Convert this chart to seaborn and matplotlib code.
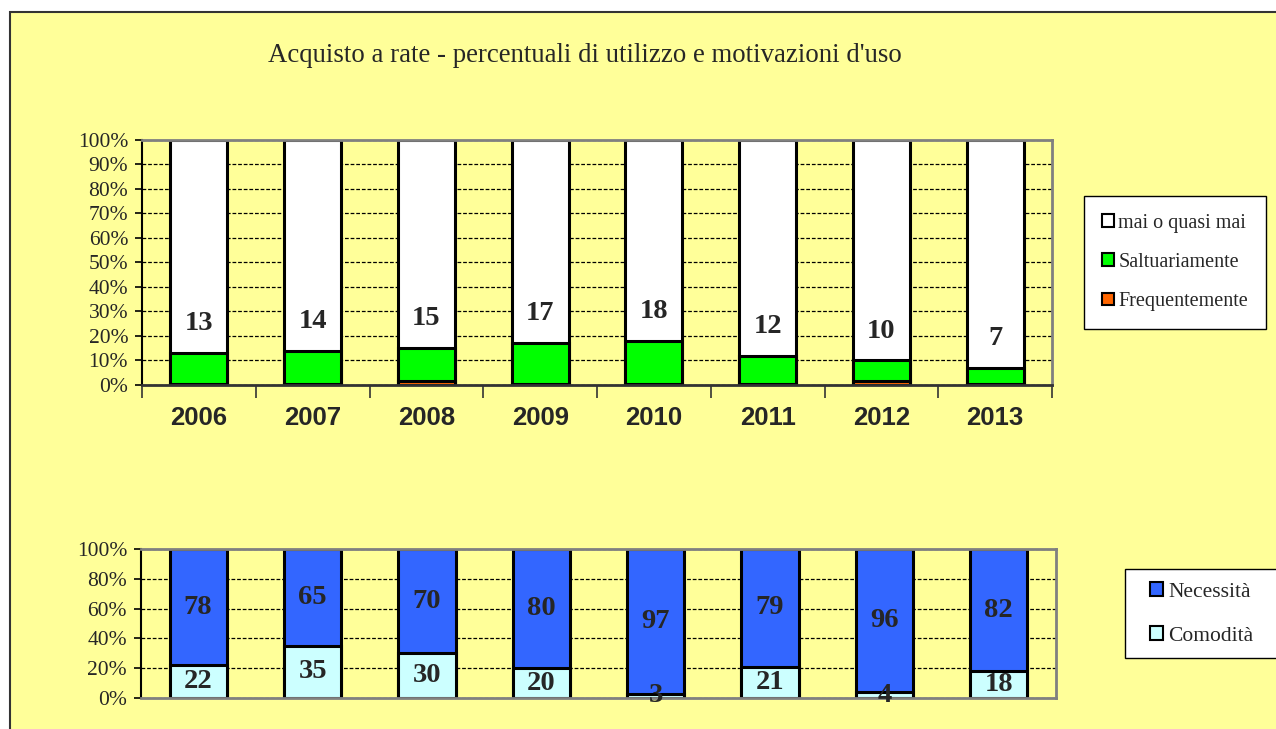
import numpy as np
import matplotlib
matplotlib.use("Agg")
import matplotlib.pyplot as plt
from matplotlib.patches import Patch, Rectangle
from matplotlib.ticker import FuncFormatter
import seaborn as sns

# dati
anni = ['2006', '2007', '2008', '2009', '2010', '2011', '2012', '2013']
utilizzo_totale = [13, 14, 15, 17, 18, 12, 10, 7]          # saltuariamente + frequentemente
frequentemente = [0.5, 0.5, 1.5, 0.5, 0.3, 0.3, 1.5, 0.3]
comodita = [22, 35, 30, 20, 3, 21, 4, 18]
necessita = [78, 65, 70, 80, 97, 79, 96, 82]

GIALLO = '#FFFF99'
SERIF = ['Liberation Serif', 'DejaVu Serif']

sns.set_style("white")
plt.rcParams['font.family'] = SERIF


def style_axes(ax, step):
    ax.set_facecolor(GIALLO)
    ax.set_ylim(0, 100)
    ax.set_xlim(-0.5, len(anni) - 0.5)
    ax.set_yticks(np.arange(0, 101, step))
    ax.yaxis.set_major_formatter(FuncFormatter(lambda v, p: f"{int(v)}%"))
    ax.tick_params(axis='y', left=True, length=5, width=1.2, color='black',
                   labelsize=15.5, pad=5)
    ax.yaxis.grid(True, color='black', linestyle=(0, (3, 1.5)), linewidth=0.9)
    ax.xaxis.grid(False)
    ax.set_axisbelow(True)
    for s in ['top', 'right', 'bottom']:
        ax.spines[s].set_color('#808080')
        ax.spines[s].set_linewidth(2)
    ax.spines['left'].set_color('black')
    ax.spines['left'].set_linewidth(1.5)
    ax.set_xlabel('')
    ax.set_ylabel('')


def main():
    fig = plt.figure(figsize=(12.76, 7.29), dpi=100)
    fig.patch.set_facecolor('white')
    sfondo = Rectangle((10 / 1276, -0.01), 1.0, 1 - 12 / 729 + 0.01,
                       transform=fig.transFigure, facecolor=GIALLO,
                       edgecolor='#333333', linewidth=1.5, zorder=-10)
    fig.add_artist(sfondo)

    fig.text(0.4585, 0.924, "Acquisto a rate - percentuali di utilizzo e motivazioni d'uso",
             ha='center', va='center', fontsize=19.3, family=SERIF)

    # ---- grafico superiore: frequenza di utilizzo ----
    ax1 = fig.add_axes([0.1113, 0.4719, 0.7132, 0.3361])
    totale = np.array(utilizzo_totale, dtype=float)
    freq = np.array(frequentemente)
    bar_kw = dict(edgecolor='black', linewidth=2.2, width=0.5, saturation=1, ax=ax1)
    sns.barplot(x=anni, y=np.full(len(anni), 100.0), color='white', **bar_kw)
    sns.barplot(x=anni, y=totale, color='#00FF00', **bar_kw)
    sns.barplot(x=anni, y=freq, color='#FF6600', **bar_kw)
    style_axes(ax1, 10)
    ax1.spines['bottom'].set_color('#333333')
    ax1.set_xticks(range(len(anni)))
    ax1.set_xticklabels(anni, family=['Liberation Sans', 'DejaVu Sans'],
                        fontweight='bold', fontsize=18.5)
    ax1.set_xticks(np.arange(-0.5, len(anni), 1), minor=True)
    ax1.tick_params(axis='x', which='major', length=0, pad=15)
    ax1.tick_params(axis='x', which='minor', bottom=True, length=9, width=1.2,
                    color='#333333')
    for i, v in enumerate(utilizzo_totale):
        ax1.text(i, v + 12, str(v), ha='center', va='center', fontsize=20.5,
                 fontweight='bold', family=SERIF)

    leg1 = [Patch(facecolor='white', edgecolor='black', linewidth=1.5, label='mai o quasi mai'),
            Patch(facecolor='#00FF00', edgecolor='black', linewidth=1.5, label='Saltuariamente'),
            Patch(facecolor='#FF6600', edgecolor='black', linewidth=1.5, label='Frequentemente')]
    l1 = fig.legend(handles=leg1, loc='center', bbox_to_anchor=(0.921, 0.640),
                    fontsize=14.5, handlelength=0.6, handleheight=0.6, handletextpad=0.2,
                    labelspacing=1.0, borderpad=0.9, fancybox=False, framealpha=1,
                    edgecolor='black')
    l1.get_frame().set_linewidth(1.0)

    # ---- grafico inferiore: motivazioni ----
    ax2 = fig.add_axes([0.1105, 0.0425, 0.7171, 0.2044])
    com = np.array(comodita, dtype=float)
    nec = np.array(necessita, dtype=float)
    bar_kw2 = dict(edgecolor='black', linewidth=2.2, width=0.5, saturation=1, ax=ax2)
    sns.barplot(x=anni, y=com + nec, color='#3366FF', **bar_kw2)
    sns.barplot(x=anni, y=com, color='#CCFFFF', **bar_kw2)
    style_axes(ax2, 20)
    ax2.set_xticks([])
    for i in range(len(anni)):
        ax2.text(i, com[i] / 2, str(comodita[i]), ha='center', va='center',
                 fontsize=20.5, fontweight='bold', family=SERIF)
        ax2.text(i, com[i] + nec[i] / 2, str(necessita[i]), ha='center', va='center',
                 fontsize=20.5, fontweight='bold', family=SERIF)

    # riquadro della legenda inferiore (esce dal bordo destro come nell'originale)
    box2 = Rectangle((1125 / 1276, 1 - 658 / 729), 0.2, 89 / 729,
                     transform=fig.transFigure, facecolor='white',
                     edgecolor='black', linewidth=1.0, zorder=4)
    fig.add_artist(box2)
    leg2 = [Patch(facecolor='#3366FF', edgecolor='black', linewidth=1.5, label='Necessità'),
            Patch(facecolor='#CCFFFF', edgecolor='black', linewidth=1.5, label='Comodità')]
    l2 = fig.legend(handles=leg2, loc='center left', bbox_to_anchor=(1150 / 1276, 1 - 614 / 729),
                    fontsize=15.5, handlelength=0.6, handleheight=0.6, handletextpad=0.25,
                    labelspacing=1.15, borderpad=0, borderaxespad=0, frameon=False)
    l2.set_zorder(5)

    fig.savefig('out.png', dpi=100, facecolor=fig.get_facecolor())


if __name__ == "__main__":
    main()
